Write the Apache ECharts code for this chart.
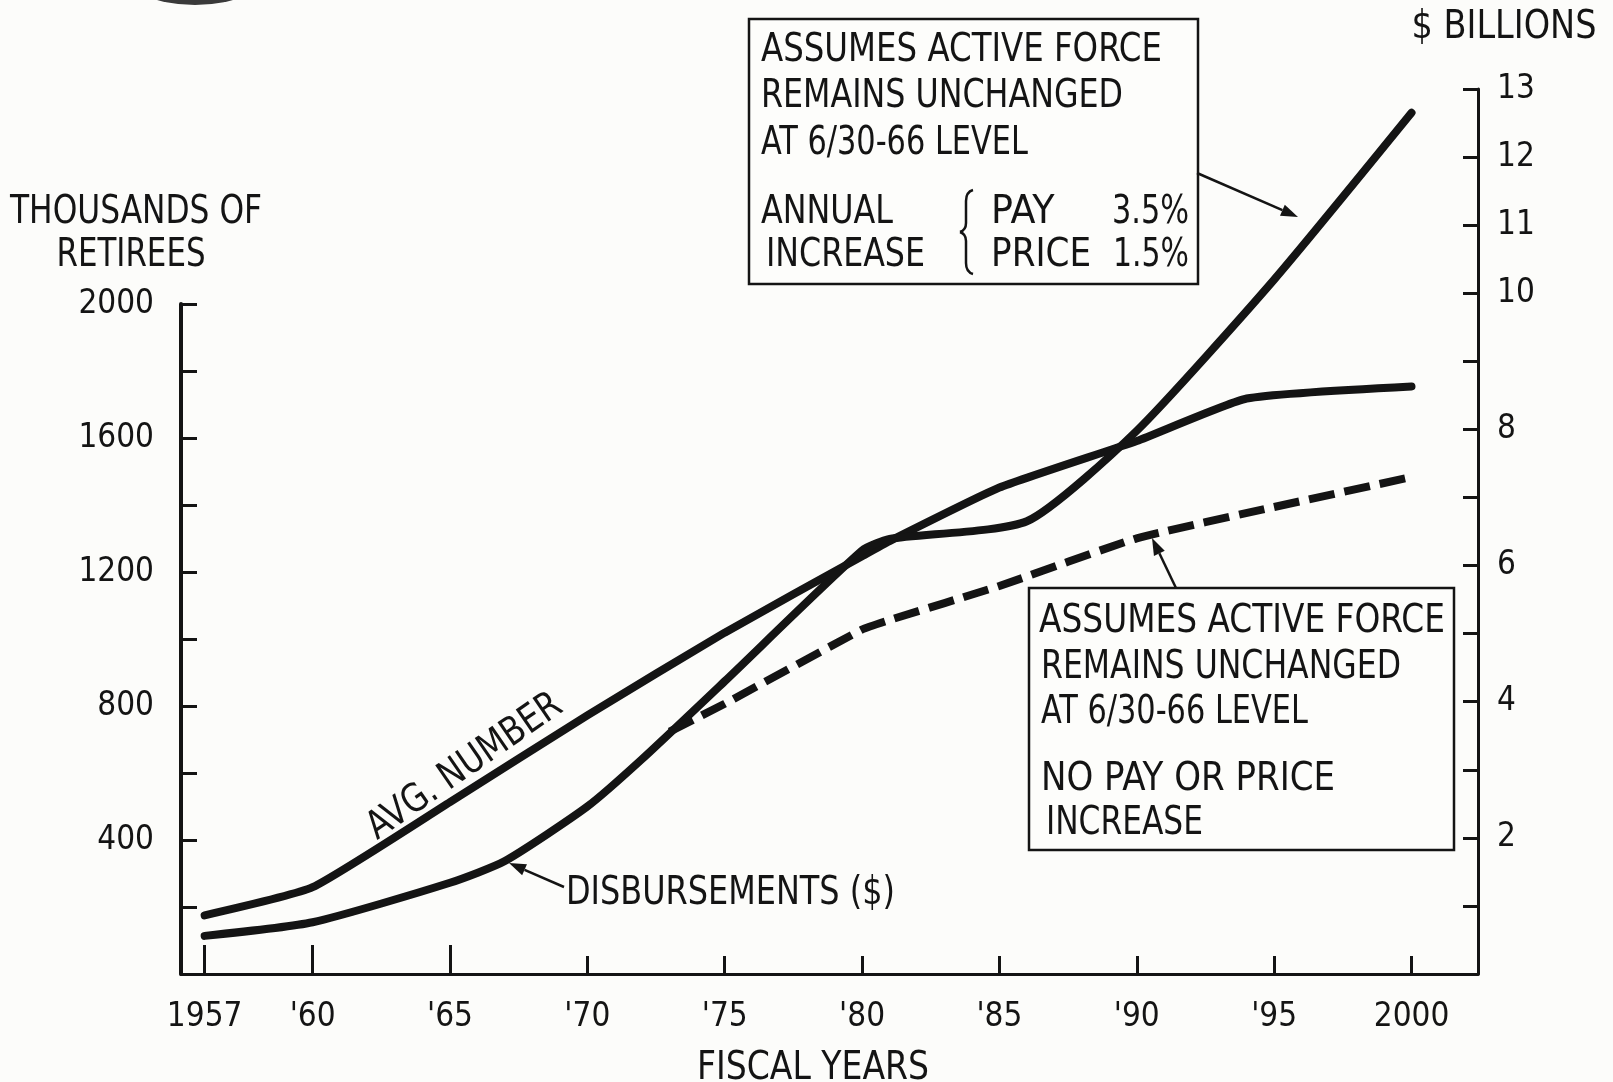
<!DOCTYPE html>
<html>
<head>
<meta charset="utf-8">
<title>Retired pay: retirees and disbursements</title>
<script src="https://cdn.jsdelivr.net/npm/echarts@6/dist/echarts.min.js"></script>
<style>
  html, body { margin: 0; padding: 0; background: #fcfcfa; }
  #chart { width: 1613px; height: 1082px; }
</style>
</head>
<body>
<div id="chart"></div>
<script>
// fiscal-year ticks along the bottom
const tickYears = [1957, 1960, 1965, 1970, 1975, 1980, 1985, 1990, 1995, 2000];
const tickLabels = ['1957', "'60", "'65", "'70", "'75", "'80", "'85", "'90", "'95", '2000'];

// average number of retirees (thousands, left axis)
const avgYears = [1957, 1960, 1965, 1970, 1975, 1980, 1981, 1985, 1990, 1994, 2000];
const avgRetirees = [175, 259, 513, 772, 1019, 1247, 1292, 1452, 1591, 1718, 1754];

// disbursements, pay 3.5% / price 1.5% increase ($ billions, right axis)
const disbYears = [1957, 1960, 1965, 1967, 1970, 1972, 1975, 1980, 1981, 1986, 1990, 1995, 2000];
const disbBillions = [0.56, 0.76, 1.34, 1.66, 2.46, 3.16, 4.30, 6.22, 6.39, 6.65, 7.98, 10.2, 12.65];

// disbursements, no pay or price increase (dashed)
const flatYears = [1973, 1975, 1980, 1981, 1985, 1990, 1995, 2000];
const flatBillions = [3.56, 3.97, 5.06, 5.2, 5.70, 6.40, 6.86, 7.30];

const INK = '#141414';

// pick the narrowest installed sans for the condensed lettering of the original
const mctx = document.createElement('canvas').getContext('2d');
const SAMPLE = 'ABCDEFGHIJ 0123456789';
const widthOf = (font, s) => { mctx.font = font; return mctx.measureText(s).width; };
const hasFont = name => widthOf('40px monospace', SAMPLE) !== widthOf('40px "' + name + '", monospace', SAMPLE);
const FAMILY = ['Noto Sans ExtraCondensed', 'Noto Sans Condensed', 'Liberation Sans Narrow', 'DejaVu Sans Condensed']
  .find(hasFont) || 'DejaVu Sans';
const FONT = '"' + FAMILY + '", sans-serif';

// tick labels: shrink a little when the font is wider than the original's
const tickW = widthOf('38px ' + FONT, '2000');
const TICK_SIZE = Math.round(38 * Math.sqrt(Math.min(1, 66 / tickW)));

// the original stretches 1957-60 wider than the later 5-year steps
const xPos = yr => yr >= 1960 ? yr : 1960 - (1960 - yr) * 1.31;
const X_MIN = 1955.21;
const X_MAX = 2002.42;
const tickPos = tickYears.map(xPos);

const yearLabel = v => {
  const i = tickPos.findIndex(p => Math.abs(p - v) < 0.01);
  return i < 0 ? '' : tickLabels[i];
};

const chart = echarts.init(document.getElementById('chart'), null, { renderer: 'canvas' });

// annotation text squeezed to the width it has in the original
const TXT_SIZE = 39;
const TXT_DROP = 3; // caps sit high in the em box
const txt = (x, y, s, w, align, extra) => {
  const natural = widthOf(TXT_SIZE + 'px ' + FONT, s);
  return Object.assign({
    type: 'text', x: x, y: y + TXT_DROP,
    scaleX: Math.max(0.6, Math.min(1.04, w / natural)),
    style: { text: s, fill: INK, font: TXT_SIZE + 'px ' + FONT, textAlign: align || 'left', textVerticalAlign: 'middle' }
  }, extra || {});
};

const arrow = (x1, y1, x2, y2) => {
  const a = Math.atan2(y2 - y1, x2 - x1);
  const L = 17, W = 6;
  const bx = x2 - L * Math.cos(a), by = y2 - L * Math.sin(a);
  return [
    { type: 'line', shape: { x1: x1, y1: y1, x2: bx, y2: by }, style: { stroke: INK, lineWidth: 2.5 } },
    { type: 'polygon', shape: { points: [
      [x2, y2],
      [bx + W * Math.sin(a), by - W * Math.cos(a)],
      [bx - W * Math.sin(a), by + W * Math.cos(a)]
    ] }, style: { fill: INK } }
  ];
};

const curve = (x1, y1, cx, cy, x2, y2) => ({
  type: 'bezierCurve',
  shape: { x1: x1, y1: y1, cpx1: cx, cpy1: cy, x2: x2, y2: y2 },
  style: { fill: null, stroke: INK, lineWidth: 2.5 }
});

const option = {
  backgroundColor: '#fcfcfa',
  animation: false,
  grid: [
    { left: 181, right: 135, top: 304, bottom: 108 },
    { left: 181, right: 135, top: 89, bottom: 108 }
  ],
  xAxis: [
    {
      gridIndex: 0, type: 'value', position: 'bottom', min: X_MIN, max: X_MAX,
      axisLine: { lineStyle: { color: INK, width: 3 } },
      axisTick: { inside: true, length: 18, customValues: tickPos, lineStyle: { color: INK, width: 3 } },
      axisLabel: { customValues: tickPos, formatter: yearLabel, color: INK, fontSize: TICK_SIZE, fontFamily: FONT, margin: 27 },
      splitLine: { show: false }
    },
    { gridIndex: 1, type: 'value', min: X_MIN, max: X_MAX, show: false },
    {
      // the first three ticks stand taller
      gridIndex: 0, type: 'value', position: 'bottom', min: X_MIN, max: X_MAX,
      axisLine: { show: false },
      axisTick: { inside: true, length: 29, customValues: tickPos.slice(0, 3), lineStyle: { color: INK, width: 3 } },
      axisLabel: { show: false },
      splitLine: { show: false }
    }
  ],
  yAxis: [
    {
      gridIndex: 0, type: 'value', position: 'left', min: 0, max: 2000, interval: 200,
      axisLine: { show: true, lineStyle: { color: INK, width: 4 } },
      axisTick: { show: true, inside: true, length: 16, lineStyle: { color: INK, width: 3 } },
      axisLabel: {
        color: INK, fontSize: TICK_SIZE, fontFamily: FONT, margin: 27,
        formatter: v => (v > 0 && v % 400 === 0) ? String(v) : ''
      },
      splitLine: { show: false }
    },
    {
      gridIndex: 1, type: 'value', position: 'right', min: 0, max: 13, interval: 1,
      axisLine: { show: true, lineStyle: { color: INK, width: 3 } },
      axisTick: { show: true, inside: true, length: 15, lineStyle: { color: INK, width: 3 } },
      axisLabel: {
        color: INK, fontSize: TICK_SIZE, fontFamily: FONT, margin: 19,
        formatter: v => (v >= 10 || (v > 0 && v % 2 === 0)) ? String(v) : ''
      },
      splitLine: { show: false }
    }
  ],
  series: [
    {
      name: 'Avg. number', type: 'line', xAxisIndex: 0, yAxisIndex: 0,
      data: avgYears.map((y, i) => [xPos(y), avgRetirees[i]]),
      symbol: 'none', smooth: 0.15,
      lineStyle: { color: INK, width: 8, cap: 'round', join: 'round' }
    },
    {
      name: 'Disbursements', type: 'line', xAxisIndex: 1, yAxisIndex: 1,
      data: disbYears.map((y, i) => [xPos(y), disbBillions[i]]),
      symbol: 'none', smooth: 0.2,
      lineStyle: { color: INK, width: 8, cap: 'round', join: 'round' }
    },
    {
      name: 'No pay or price increase', type: 'line', xAxisIndex: 1, yAxisIndex: 1,
      data: flatYears.map((y, i) => [xPos(y), flatBillions[i]]),
      symbol: 'none', smooth: 0.15,
      lineStyle: { color: INK, width: 8, type: [26, 10], cap: 'butt' }
    }
  ],
  graphic: [
    // scan artifact at the top edge
    { type: 'circle', shape: { cx: 195, cy: -142, r: 147 }, style: { fill: '#3a3a3a' } },

    txt(136, 210, 'THOUSANDS OF', 252, 'center'),
    txt(131, 253, 'RETIREES', 149, 'center'),
    txt(1504, 25, '$ BILLIONS', 185, 'center'),
    txt(813, 1066, 'FISCAL YEARS', 232, 'center'),

    // upper note box
    { type: 'rect', shape: { x: 749, y: 19, width: 449, height: 265 }, style: { fill: '#fdfdfb', stroke: INK, lineWidth: 2.5 } },
    txt(761, 48, 'ASSUMES ACTIVE FORCE', 401),
    txt(761, 94, 'REMAINS UNCHANGED', 362),
    txt(761, 141, 'AT 6/30-66 LEVEL', 267),
    txt(761, 210, 'ANNUAL', 132),
    txt(766, 253, 'INCREASE', 159),
    curve(973, 190, 966, 192, 966, 201),
    { type: 'line', shape: { x1: 966, y1: 201, x2: 966, y2: 223 }, style: { stroke: INK, lineWidth: 2.5 } },
    curve(966, 223, 966, 230, 960, 232),
    curve(960, 232, 966, 234, 966, 241),
    { type: 'line', shape: { x1: 966, y1: 241, x2: 966, y2: 263 }, style: { stroke: INK, lineWidth: 2.5 } },
    curve(966, 263, 966, 272, 973, 274),
    txt(991, 210, 'PAY', 69),
    txt(991, 253, 'PRICE', 100),
    txt(1189, 210, '3.5%', 77, 'right'),
    txt(1189, 253, '1.5%', 76, 'right'),
    ...arrow(1197, 173, 1298, 217),

    // lower note box
    { type: 'rect', shape: { x: 1029, y: 588, width: 425, height: 262 }, style: { fill: '#fdfdfb', stroke: INK, lineWidth: 2.5 } },
    txt(1039, 619, 'ASSUMES ACTIVE FORCE', 406),
    txt(1041, 665, 'REMAINS UNCHANGED', 360),
    txt(1041, 710, 'AT 6/30-66 LEVEL', 267),
    txt(1041, 777, 'NO PAY OR PRICE', 294),
    txt(1046, 821, 'INCREASE', 157),
    ...arrow(1176, 588, 1152, 538),

    // line labels
    txt(566, 891, 'DISBURSEMENTS ($)', 329),
    ...arrow(564, 887, 509, 863),
    txt(465, 764, 'AVG. NUMBER', 228, 'center', { rotation: 0.605 })
  ]
};

chart.setOption(option);
window.addEventListener('resize', () => chart.resize());
</script>
</body>
</html>
